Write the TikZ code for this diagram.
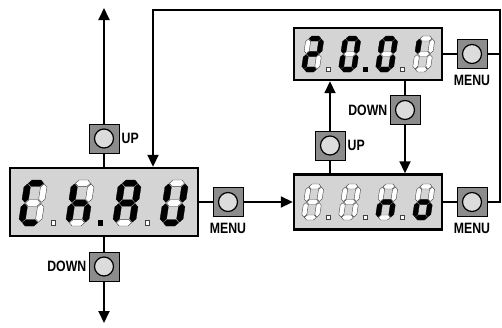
\documentclass[tikz,border=0pt]{standalone}
\usepackage{fontspec}
\newfontfamily\lblfont{Liberation Sans}[FakeStretch=0.82]
\usetikzlibrary{arrows.meta}
\definecolor{dispgray}{HTML}{D4D4D4}
\definecolor{btngray}{HTML}{8C8C8C}
\definecolor{knob}{HTML}{DCDCDC}
\tikzset{
  conn/.style={line width=1.8pt},
  arr/.style={conn,-{Triangle[length=12pt,width=11pt]}},
  disp/.style={draw=black,line width=2.4pt,fill=dispgray,inner sep=0pt},
  btn/.style={draw=black,line width=1pt,fill=btngray,minimum width=30pt,minimum height=29pt,inner sep=0pt,
    path picture={\draw[fill=knob,line width=1.2pt] (path picture bounding box.center) circle (9.5pt);}},
  lbl/.style={font=\lblfont\bfseries\fontsize{15}{15}\selectfont,inner sep=0pt},
  segon/.style={fill=black,draw=black,line width=0.3pt},
  segoff/.style={fill=white,draw=black!75,line width=0.4pt},
  digsize/.style={x={(2.3pt,0pt)},y={(0.35pt,2.3pt)}}
}
\newcommand\sgH[1]{(1.7,#1) -- (3.1,#1+1.4) -- (6.9,#1+1.4) -- (8.3,#1) -- (6.9,#1-1.4) -- (3.1,#1-1.4) -- cycle}
\newcommand\sgL[1]{(#1,1.7) -- (#1+1.4,3.1) -- (#1+1.4,8.3) -- (#1,9.7) -- (#1-1.4,8.3) -- (#1-1.4,3.1) -- cycle}
\newcommand\sgU[1]{(#1,10.3) -- (#1+1.4,11.7) -- (#1+1.4,16.9) -- (#1,18.3) -- (#1-1.4,16.9) -- (#1-1.4,11.7) -- cycle}
\newcommand\sevdig[8]{\begin{scope}[shift={#1},digsize]
  \filldraw[#2] \sgH{18.6};
  \filldraw[#3] \sgU{8.6};
  \filldraw[#4] \sgL{8.6};
  \filldraw[#5] \sgH{1.4};
  \filldraw[#6] \sgL{1.4};
  \filldraw[#7] \sgU{1.4};
  \filldraw[#8] \sgH{10};
\end{scope}}
\newcommand\dotp[3]{\filldraw[#3,shift={#1}] (-#2/2,0) rectangle (#2/2,-#2);}
\begin{document}
\begin{tikzpicture}[x=1pt,y=-1pt]
\useasboundingbox (0,0) rectangle (502,327);
% displays
\node[disp,minimum width=188pt,minimum height=68pt] (L) at (104,202) {};
\node[disp,minimum width=148pt,minimum height=52pt] (T) at (368,54) {};
\node[disp,minimum width=148pt,minimum height=55pt] (B) at (368,202) {};
% buttons
\node[btn] (upL) at (104,138.5) {};
\node[btn] (downL) at (104,266.5) {};
\node[btn] (menuL) at (228,202) {};
\node[btn] (menuT) at (472,54) {};
\node[btn] (downT) at (405,110) {};
\node[btn] (upB) at (330,145.5) {};
\node[btn] (menuB) at (472,202) {};
% coordinates
\coordinate (topL) at (104,8);
\coordinate (botL) at (104,323);
\coordinate (c1) at (153,10);
\coordinate (c2) at (500,10);
\coordinate (c3) at (500,202);
% connectors
\draw[conn] (L.north) -- (upL.south);
\draw[arr] (upL.north) -- (topL);
\draw[conn] (L.south) -- (downL.north);
\draw[arr] (downL.south) -- (botL);
\draw[conn] (L.east) -- (menuL.west);
\draw[arr] (menuL.east) -- (B.west);
\draw[conn] (B.east) -- (menuB.west);
\draw[arr] (menuB.east) -- (c3) -- (c2) -- (c1) -- (c1 |- L.north);
\draw[conn] (T.east) -- (menuT.west);
\draw[conn] (menuT.east) -- (menuT.east -| c2);
\draw[conn] (upB.south) -- (upB.south |- B.north);
\draw[arr] (upB.north) -- (upB.north |- T.south);
\draw[conn] (downT.north |- T.south) -- (downT.north);
\draw[arr] (downT.south) -- (downT.south |- B.north);
% labels
\node[lbl,anchor=west] (upLt) at ([xshift=2pt]upL.east) {UP};
\node[lbl,anchor=east] (downLt) at ([xshift=-2pt]downL.west) {DOWN};
\node[lbl,anchor=base] (menuLt) at ([yshift=-16pt]menuL.south) {MENU};
\node[lbl,anchor=base] (menuTt) at ([yshift=-16pt]menuT.south) {MENU};
\node[lbl,anchor=base] (menuBt) at ([yshift=-16pt]menuB.south) {MENU};
\node[lbl,anchor=east] (downTt) at ([xshift=-2pt]downT.west) {DOWN};
\node[lbl,anchor=west] (upBt) at ([xshift=2pt]upB.east) {UP};
% left display: C h . A U
\sevdig{(18,226)}{segon}{segoff}{segoff}{segon}{segon}{segon}{segoff}
\sevdig{(65,226)}{segoff}{segoff}{segon}{segoff}{segon}{segon}{segon}
\sevdig{(112,226)}{segon}{segon}{segon}{segoff}{segon}{segon}{segon}
\sevdig{(159,226)}{segoff}{segon}{segon}{segon}{segon}{segon}{segoff}
\dotp{(53,225)}{4.6}{segoff}
\dotp{(100,225)}{4.6}{segon}
\dotp{(147,225)}{4.6}{segoff}
% right displays
\tikzset{digsize/.style={x={(1.8pt,0pt)},y={(0.27pt,1.8pt)}}}
\sevdig{(301,72)}{segon}{segon}{segoff}{segon}{segon}{segoff}{segon}
\sevdig{(338,72)}{segon}{segon}{segon}{segon}{segon}{segon}{segoff}
\sevdig{(375,72)}{segon}{segon}{segon}{segon}{segon}{segon}{segoff}
\sevdig{(412,72)}{segoff}{segoff}{segoff}{segoff}{segoff}{segon}{segoff}
\dotp{(328.5,71.5)}{4}{segoff}
\dotp{(365.5,71.5)}{4}{segon}
\dotp{(402.5,71.5)}{4}{segoff}
\sevdig{(301,220)}{segoff}{segoff}{segoff}{segoff}{segoff}{segoff}{segoff}
\sevdig{(338,220)}{segoff}{segoff}{segoff}{segoff}{segoff}{segoff}{segoff}
\sevdig{(375,220)}{segoff}{segoff}{segon}{segoff}{segon}{segoff}{segon}
\sevdig{(412,220)}{segoff}{segoff}{segon}{segon}{segon}{segoff}{segon}
\dotp{(328.5,219.5)}{4}{segoff}
\dotp{(365.5,219.5)}{4}{segoff}
\dotp{(402.5,219.5)}{4}{segoff}
\end{tikzpicture}
\end{document}
